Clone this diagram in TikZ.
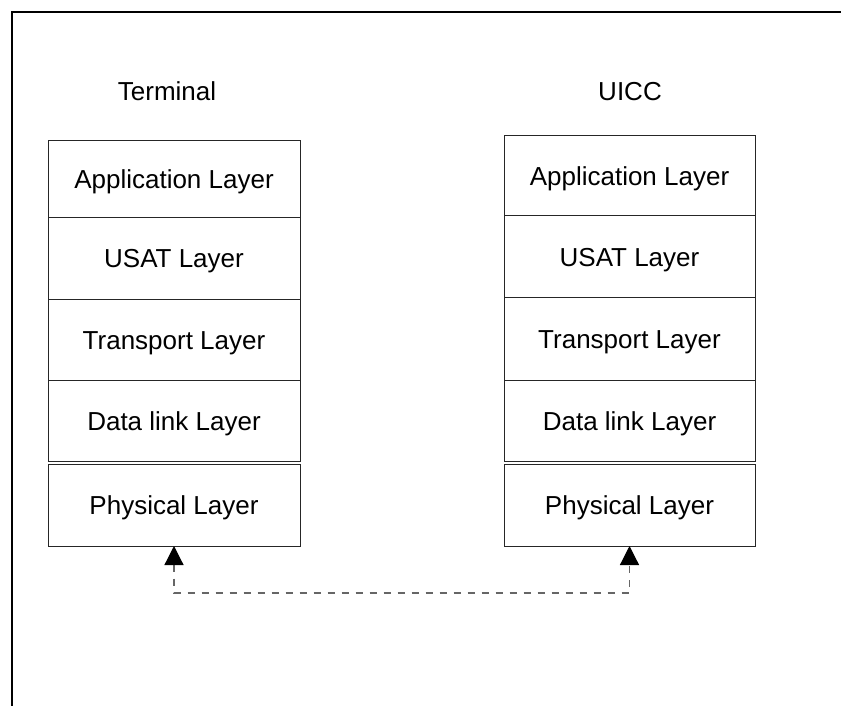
\documentclass[tikz,border=0pt]{standalone}
\usepackage{fontspec}
\setmainfont{Liberation Sans}
\usetikzlibrary{arrows.meta}
\tikzset{
	layer/.style={draw=black!85, line width=1pt, rectangle, inner sep=0pt, outer sep=0pt,
		text height=19pt, text depth=0pt, font=\fontsize{26}{30}\selectfont},
	title/.style={font=\fontsize{26}{30}\selectfont, text height=19pt, text depth=0pt},
	link/.style={draw=black!60, line width=1.2pt, dash pattern=on 7pt off 7pt,
		{Triangle[width=19pt,length=19pt,black]}-{Triangle[width=19pt,length=19pt,black]}}
}
\begin{document}
\begin{tikzpicture}[x=1pt,y=-1pt]
	    \useasboundingbox (0,0) rectangle (841,706);
	    \draw[line width=2.4pt] (12,706) -- (12,12) -- (841,12);
	    \node[title] (term) at (167,91) {Terminal};
	    \node[title] (uicc) at (630,91) {UICC};
	    % terminal stack
	    \foreach \n/\txt/\y/\h in {app/Application Layer/179/76, usat/USAT Layer/258/82,
		trans/Transport Layer/339.75/81.5, data/Data link Layer/420.75/80.5,
		phy/Physical Layer/505/82}
		\node[layer, minimum width=252pt, minimum height=\h pt] (T\n) at (174,\y) {\txt};
	    % uicc stack
	    \foreach \n/\txt/\y/\h in {app/Application Layer/175.65/79.3, usat/USAT Layer/256.5/82.4,
		trans/Transport Layer/339/82.6, data/Data link Layer/420.65/80.7,
		phy/Physical Layer/505/82}
		\node[layer, minimum width=251pt, minimum height=\h pt] (U\n) at (629.5,\y) {\txt};
	    \draw[link] (Tphy.south) -- ++(0,47) -| (Uphy.south);
	\end{tikzpicture}
\end{document}
